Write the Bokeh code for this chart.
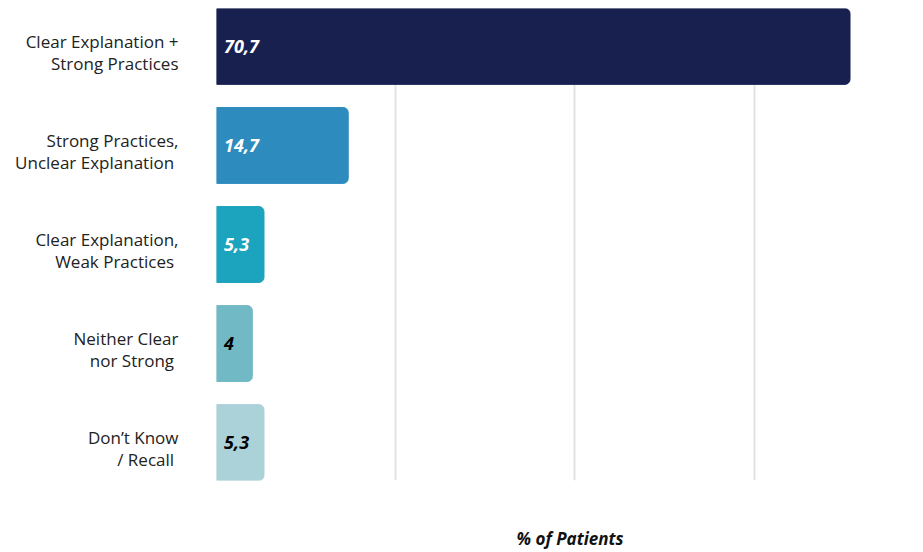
from bokeh.plotting import figure
from bokeh.models import Range1d, FixedTicker, ColumnDataSource
from bokeh.core.properties import value
from bokeh.embed import file_html
from bokeh.resources import INLINE

categories = [
    "Clear Explanation +\nStrong Practices",
    "Strong Practices,\nUnclear Explanation\u00a0",
    "Clear Explanation,\nWeak Practices\u00a0",
    "Neither Clear\nnor Strong\u00a0",
    "Don\u2019t Know\n/ Recall\u00a0",
]
values = [70.7, 14.7, 5.3, 4, 5.3]
value_labels = ["70,7", "14,7", "5,3", "4", "5,3"]
colors = ["#182050", "#2e8bbd", "#1ca3bd", "#72b9c6", "#abd1d9"]
label_colors = ["white", "white", "white", "black", "black"]
grid_ticks = [0, 20, 40, 60]

n = len(categories)
ypos = [n - 1 - i for i in range(n)]
bar_h = 0.766
label_shift = 0.06  # category labels sit slightly below bar centres

src = ColumnDataSource(dict(y=ypos, v=values, lab=value_labels, c=colors, lc=label_colors))

p = figure(width=923, height=552, output_backend="svg", toolbar_location=None,
           x_range=Range1d(0, 78.9), y_range=Range1d(-bar_h / 2, n - 1 + bar_h / 2),
           min_border_left=216, min_border_right=0, min_border_top=8, min_border_bottom=71)
p.outline_line_color = None
p.background_fill_color = "white"

p.hbar(y="y", right="v", left=0, height=bar_h, source=src, fill_color="c",
       line_color="c", line_width=1, border_radius=(0, 5, 5, 0))

p.text(x=0.85, y="y", text="lab", source=src, text_color="lc",
       text_font=value("Open Sans"), text_font_style="bold italic",
       text_font_size="18px", text_baseline="middle", text_align="left")

# grid
p.ygrid.grid_line_color = None
p.xgrid.ticker = FixedTicker(ticks=grid_ticks)
p.xgrid.grid_line_color = "#e2e2e2"
p.xgrid.grid_line_width = 2

# y axis
tick_pos = [yy - label_shift for yy in ypos]
ya = p.yaxis[0]
ya.ticker = FixedTicker(ticks=tick_pos)
ya.major_label_overrides = {t: c for t, c in zip(tick_pos, categories)}
ya.axis_line_color = None
ya.major_tick_line_color = None
ya.minor_tick_line_color = None
ya.major_label_standoff = 32
ya.major_label_text_font = "Open Sans"
ya.major_label_text_font_size = "17px"
ya.major_label_text_line_height = 0.95
ya.major_label_text_color = "#222222"
ya.major_label_text_align = "right"

# x axis
xa = p.xaxis[0]
xa.ticker = FixedTicker(ticks=[])
xa.axis_line_color = None
xa.major_tick_line_color = None
xa.minor_tick_line_color = None
xa.axis_label = "% of Patients"
xa.axis_label_text_font = "Open Sans"
xa.axis_label_text_font_style = "bold italic"
xa.axis_label_text_font_size = "17px"
xa.axis_label_text_color = "#111111"
xa.axis_label_standoff = 46

open("out.html", "w").write(file_html(p, INLINE))
